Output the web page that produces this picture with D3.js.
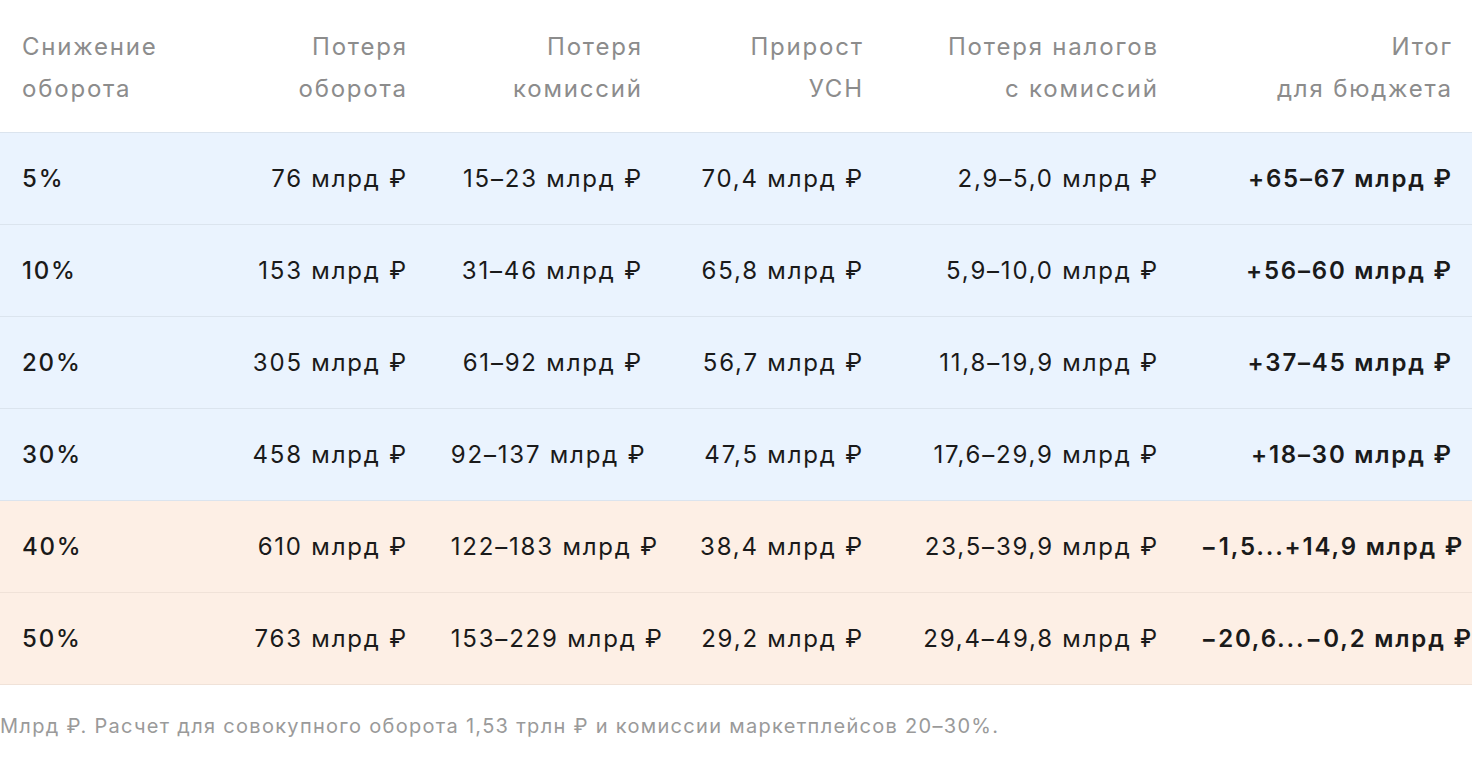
<!DOCTYPE html>
<html><head><meta charset="utf-8">
<script src="https://cdn.jsdelivr.net/npm/d3@7"></script>
<style>body{margin:0;background:#fff}svg{font-family:Inter,"Noto Sans",sans-serif}</style>
</head><body><svg id="c" width="1472" height="758"></svg>
<script>
const headers = [["Снижение","оборота"],["Потеря","оборота"],["Потеря","комиссий"],["Прирост","УСН"],["Потеря налогов","с комиссий"],["Итог","для бюджета"]];
const drops = ["5%","10%","20%","30%","40%","50%"];
const turnoverLoss = ["76 млрд ₽","153 млрд ₽","305 млрд ₽","458 млрд ₽","610 млрд ₽","763 млрд ₽"];
const commissionLoss = ["15–23 млрд ₽","31–46 млрд ₽","61–92 млрд ₽","92–137 млрд ₽","122–183 млрд ₽","153–229 млрд ₽"];
const usnGain = ["70,4 млрд ₽","65,8 млрд ₽","56,7 млрд ₽","47,5 млрд ₽","38,4 млрд ₽","29,2 млрд ₽"];
const taxLoss = ["2,9–5,0 млрд ₽","5,9–10,0 млрд ₽","11,8–19,9 млрд ₽","17,6–29,9 млрд ₽","23,5–39,9 млрд ₽","29,4–49,8 млрд ₽"];
const budget = ["+65–67 млрд ₽","+56–60 млрд ₽","+37–45 млрд ₽","+18–30 млрд ₽","−1,5...+14,9 млрд ₽","−20,6...−0,2 млрд ₽"];
const zone = ["plus","plus","plus","plus","minus","minus"];
const note = "Млрд ₽. Расчет для совокупного оборота 1,53 трлн ₽ и комиссии маркетплейсов 20–30%.";

const cols = [drops, turnoverLoss, commissionLoss, usnGain, taxLoss, budget];
const colLeft = [22, 245, 449, 690, 915, 1199];
const colRight = [160, 406, 641, 862, 1157, 1451];
const LS = 1.8;
const svg = d3.select("#c");
const y = d3.scaleBand().domain(d3.range(drops.length)).range([132, 684]);
const fill = d3.scaleOrdinal().domain(["plus","minus"]).range(["#eaf3fe","#fdefe5"]);

svg.selectAll("rect.row").data(drops).join("rect")
  .attr("x",0).attr("width",1472).attr("y",(d,i)=>y(i)).attr("height",y.bandwidth())
  .attr("fill",(d,i)=>fill(zone[i]));
svg.selectAll("line.sep").data(d3.range(drops.length+1)).join("line")
  .attr("x1",0).attr("x2",1472)
  .attr("y1",i=>(i<drops.length?y(i):684)+0.5).attr("y2",i=>(i<drops.length?y(i):684)+0.5)
  .attr("stroke",i=>i>=5?"#f0e2d8":"#dbe4ee").attr("stroke-width",1.2);

headers.forEach((h,c)=>{
  h.forEach((t,k)=>{
    svg.append("text").attr("x",c===0?colLeft[0]:colRight[c]+LS).attr("y",55+k*42)
      .attr("letter-spacing",LS)
      .attr("text-anchor",c===0?"start":"end").attr("fill","#8c8c8c").attr("font-size",24).text(t);
  });
});

cols.forEach((arr,c)=>{
  arr.forEach((t,i)=>{
    const el = svg.append("text").attr("y",y(i)+y.bandwidth()/2+9).attr("font-size",24)
      .attr("letter-spacing",LS)
      .attr("fill","#1a1a1a").attr("font-weight",c===0?500:(c===5?600:400)).text(t);
    if(c===0){el.attr("x",colLeft[0]);}
    else{
      const w = el.node().getComputedTextLength();
      el.attr("text-anchor","end").attr("x",Math.max(colRight[c], colLeft[c]+w)+LS);
    }
  });
});

svg.append("text").attr("x",0).attr("y",733).attr("font-size",20).attr("letter-spacing",1.3)
  .attr("fill","#9a9a9a").text(note);
</script></body></html>
